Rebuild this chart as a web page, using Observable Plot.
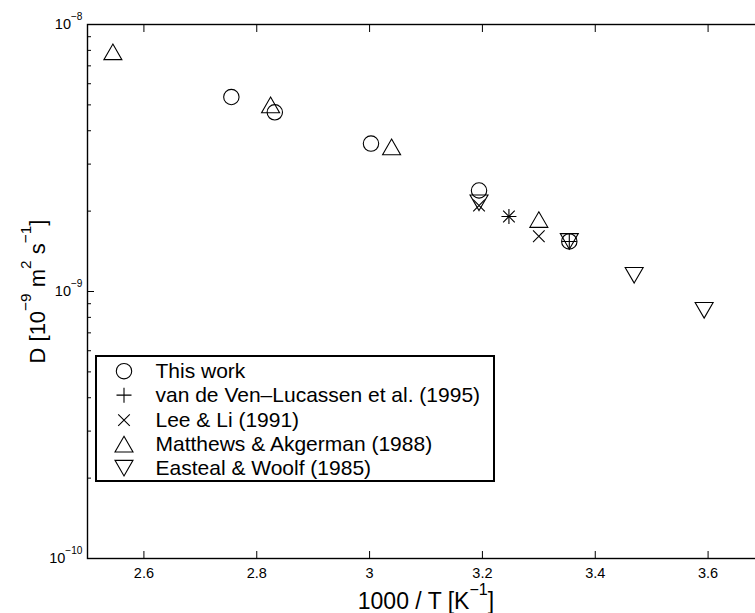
<!DOCTYPE html>
<html>
<head>
<meta charset="utf-8">
<script src="https://cdn.jsdelivr.net/npm/d3@7"></script>
<script src="https://cdn.jsdelivr.net/npm/@observablehq/plot@0.6"></script>
<style>
  html, body { margin: 0; padding: 0; background: #fff; overflow: hidden; }
  #wrap { position: relative; width: 790px; height: 613px;
          font-family: "Liberation Sans", Arial, Helvetica, sans-serif; color: #000; }
  #wrap svg { display: block; max-width: none !important; }
  #legend { position: absolute; left: 95px; top: 355px; width: 400px; height: 127px;
            box-sizing: border-box; border: 2px solid #000; background: #fff; }
  .row { position: absolute; left: 0; height: 24.3px; line-height: 24.3px; font-size: 21px; white-space: nowrap; }
  .row svg { position: absolute; left: 15px; top: 0; }
  .row span { position: absolute; left: 58.5px; top: 0; }
</style>
</head>
<body>
<div id="wrap"><div id="legend"></div></div>
<script>
// Diffusion coefficient of the solute versus inverse temperature, by source.
const seriesNames = [
  "This work",
  "van de Ven\u2013Lucassen et al. (1995)",
  "Lee & Li (1991)",
  "Matthews & Akgerman (1988)",
  "Easteal & Woolf (1985)"
];

// 1000/T [1/K] and D [m^2/s] for each source
const thisWorkX = [2.755, 2.832, 3.0025, 3.194, 3.354];
const thisWorkD = [5.35e-9, 4.69e-9, 3.58e-9, 2.39e-9, 1.54e-9];
const vanDeVenX = [3.247, 3.354];
const vanDeVenD = [1.91e-9, 1.54e-9];
const leeLiX = [3.194, 3.247, 3.300];
const leeLiD = [2.10e-9, 1.91e-9, 1.61e-9];
const matthewsX = [2.545, 2.8245, 3.039, 3.300];
const matthewsD = [7.9e-9, 5.0e-9, 3.48e-9, 1.86e-9];
const eastealX = [3.194, 3.354, 3.469, 3.593];
const eastealD = [2.15e-9, 1.54e-9, 1.15e-9, 0.85e-9];

// axis ticks
const xTicks = [2.6, 2.8, 3.0, 3.2, 3.4, 3.6];
const yMajorTicks = [1e-10, 1e-9, 1e-8];
const yMinorTicks = [];
for (const decade of [1e-10, 1e-9]) for (let k = 2; k <= 9; k++) yMinorTicks.push(k * decade);

// open marker shapes
const circleSym = {draw(c) { const r = 7.7; c.moveTo(r, 0); c.arc(0, 0, r, 0, 2 * Math.PI); c.closePath(); }};
const plusSym = {draw(c) { const h = 7.5; c.moveTo(-h, 0); c.lineTo(h, 0); c.moveTo(0, -h); c.lineTo(0, h); }};
const timesSym = {draw(c) { const h = 5.8; c.moveTo(-h, -h); c.lineTo(h, h); c.moveTo(-h, h); c.lineTo(h, -h); }};
const triUpSym = {draw(c) { const w = 9, h = 7.8; c.moveTo(0, -h); c.lineTo(w, h); c.lineTo(-w, h); c.closePath(); }};
const triDownSym = {draw(c) { const w = 9, h = 7.8; c.moveTo(0, h); c.lineTo(w, -h); c.lineTo(-w, -h); c.closePath(); }};
const symbols = [circleSym, plusSym, timesSym, triUpSym, triDownSym];

const columns = [
  [thisWorkX, thisWorkD], [vanDeVenX, vanDeVenD], [leeLiX, leeLiD],
  [matthewsX, matthewsD], [eastealX, eastealD]
];
const points = columns.flatMap(([xs, ds], i) => xs.map((x, j) => ({series: seriesNames[i], invT: x, D: ds[j]})));

const minus = "\u2212";
const sup = (n) => `^{${n < 0 ? minus + Math.abs(n) : n}}`;

// the axes box runs on past the right edge of the window
const W = 790, H = 613;
const chart = Plot.plot({
  width: W, height: H,
  marginLeft: 87, marginRight: W - 764, marginTop: 24, marginBottom: 55,
  style: {fontFamily: "'Liberation Sans', Arial, Helvetica, sans-serif", fontSize: "14.5px", color: "#000", background: "#fff", maxWidth: "none"},
  x: {domain: [2.5, 3.7]},
  y: {type: "log", domain: [1e-10, 1e-8]},
  symbol: {domain: seriesNames, range: symbols},
  marks: [
    Plot.frame({stroke: "#000", strokeWidth: 1.4}),
    // inward ticks
    Plot.axisX(xTicks, {anchor: "bottom", tickSize: 7, dy: -7, fill: "none", label: null, strokeWidth: 1}),
    Plot.axisX(xTicks, {anchor: "top", tickSize: 7, dy: 7, fill: "none", label: null, strokeWidth: 1}),
    Plot.axisY(yMajorTicks, {anchor: "left", tickSize: 7, dx: 7, fill: "none", label: null, strokeWidth: 1}),
    Plot.axisY(yMinorTicks, {anchor: "left", tickSize: 4, dx: 4, fill: "none", label: null, strokeWidth: 1}),
    // tick labels
    Plot.axisX(xTicks, {anchor: "bottom", tickSize: 0, tickPadding: 9, label: null,
      tickFormat: d => String(+d.toFixed(1))}),
    Plot.axisY(yMajorTicks, {anchor: "left", tickSize: 0, tickPadding: 5, label: null,
      tickFormat: d => "10" + sup(Math.round(Math.log10(d)))}),
    // axis titles
    Plot.text(["1000 / T [K" + sup(-1) + "]"], {frameAnchor: "bottom", dy: 43, fontSize: 23, textAnchor: "middle", lineAnchor: "middle", fill: "#000"}),
    Plot.text(["D [10" + sup(-9) + " m" + sup(2) + " s" + sup(-1) + "]"], {frameAnchor: "left", dx: -50, rotate: -90, fontSize: 22, textAnchor: "middle", lineAnchor: "middle", fill: "#000"}),
    // data
    Plot.dot(points, {x: "invT", y: "D", symbol: "series", fill: "none", stroke: "#000", strokeWidth: 1.1})
  ]
});

const wrap = document.getElementById("wrap");
wrap.insertBefore(chart, wrap.firstChild);

// turn "^{...}" runs into raised, smaller tspans
const svgNS = "http://www.w3.org/2000/svg";
function richText(el) {
  const str = el.textContent;
  if (!str.includes("^{")) return;
  const F = parseFloat(getComputedStyle(el).fontSize);
  const shift = 0.62 * F, size = 0.7 * F;
  const parts = str.split(/\^\{([^}]*)\}/);
  el.textContent = "";
  let raised = false;
  parts.forEach((p, i) => {
    if (!p) return;
    const t = document.createElementNS(svgNS, "tspan");
    t.textContent = p;
    if (i % 2) {
      t.setAttribute("dy", raised ? 0 : -shift);
      t.setAttribute("font-size", size);
      raised = true;
    } else if (raised) {
      t.setAttribute("dy", shift);
      raised = false;
    }
    el.appendChild(t);
  });
}
chart.querySelectorAll("text").forEach(richText);

// legend
const legend = document.getElementById("legend");
seriesNames.forEach((name, i) => {
  const row = document.createElement("div");
  row.className = "row";
  row.style.top = (2 + i * 24.3) + "px";
  row.style.width = "396px";
  const s = d3.create("svg").attr("width", 24).attr("height", 24.3);
  const p = d3.path();
  symbols[i].draw(p, 0);
  s.append("path").attr("transform", "translate(12,12.15)").attr("d", p.toString())
    .attr("fill", "none").attr("stroke", "#000").attr("stroke-width", 1.1);
  row.appendChild(s.node());
  const label = document.createElement("span");
  label.textContent = name;
  row.appendChild(label);
  legend.appendChild(row);
});
</script>
</body>
</html>
